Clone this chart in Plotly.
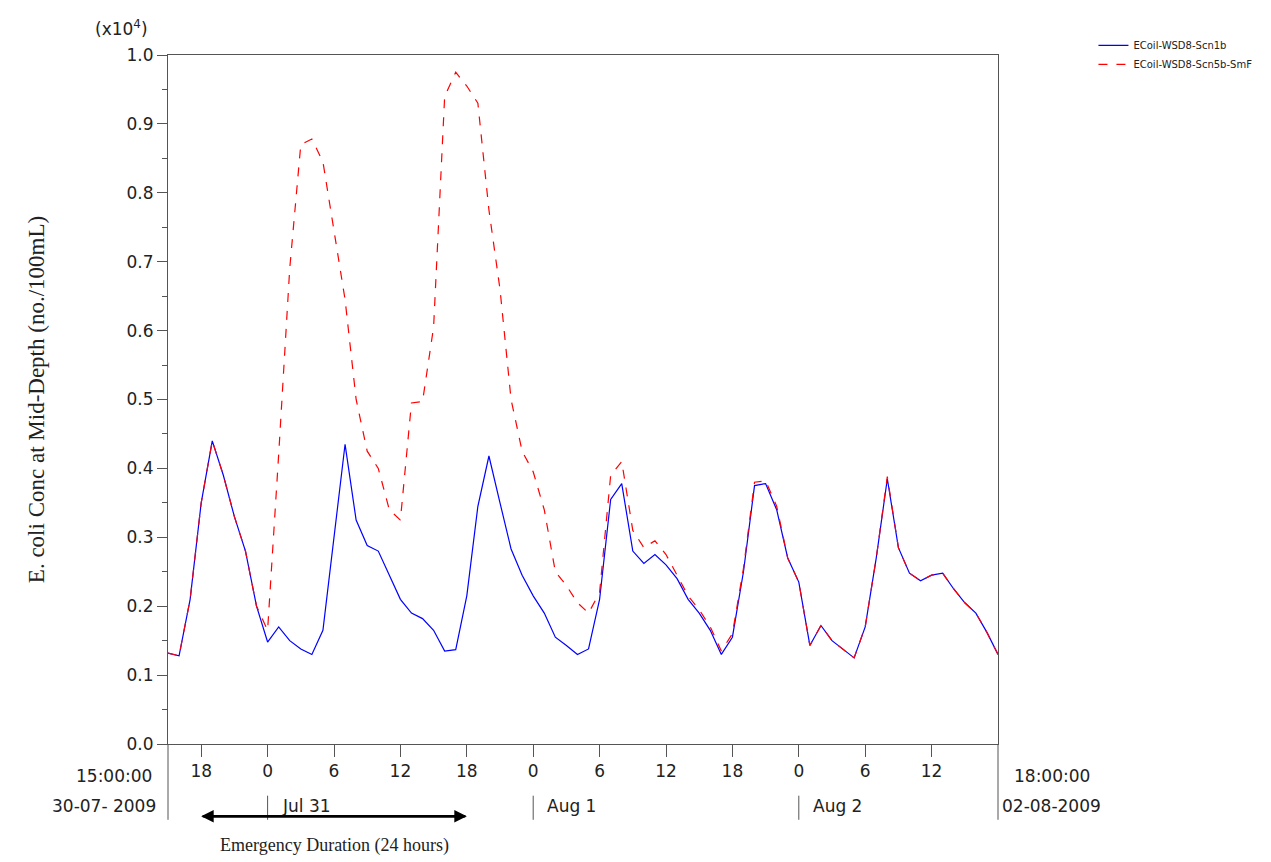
import plotly.graph_objects as go

hours = list(range(76))  # hours since 15:00 30-07-2009
scn1b = [0.132,0.128,0.21,0.35,0.44,0.39,0.33,0.28,0.20,0.148,0.17,0.15,0.138,0.13,0.165,0.30,
         0.435,0.325,0.288,0.28,0.245,0.21,0.19,0.182,0.165,0.135,0.137,0.215,0.345,0.418,0.35,0.283,
         0.245,0.215,0.19,0.155,0.143,0.13,0.138,0.21,0.355,0.378,0.28,0.262,0.275,0.26,0.24,0.21,
         0.19,0.165,0.13,0.155,0.25,0.375,0.378,0.34,0.27,0.235,0.143,0.172,0.15,0.138,0.125,0.17,
         0.27,0.385,0.285,0.248,0.237,0.245,0.248,0.225,0.205,0.19,0.162,0.13]
scn5b = [0.132,0.128,0.21,0.35,0.44,0.39,0.33,0.28,0.20,0.165,0.42,0.69,0.87,0.878,0.845,0.745,
         0.645,0.50,0.425,0.40,0.34,0.325,0.495,0.497,0.605,0.94,0.975,0.955,0.93,0.775,0.66,0.50,
         0.425,0.395,0.34,0.25,0.23,0.205,0.19,0.22,0.39,0.41,0.31,0.285,0.295,0.275,0.245,0.215,
         0.195,0.17,0.135,0.16,0.255,0.38,0.382,0.345,0.27,0.235,0.143,0.172,0.15,0.138,0.125,0.17,
         0.27,0.388,0.285,0.248,0.237,0.245,0.248,0.225,0.205,0.19,0.162,0.13]
tick_hours = [3,9,15,21,27,33,39,45,51,57,63,69]
tick_text = ["18","0","6","12","18","0","6","12","18","0","6","12"]
day_hours = [9,33,57]
day_text = ["Jul 31","Aug 1","Aug 2"]
y_ticks = [round(i*0.1,1) for i in range(11)]
emerg_start, emerg_end = 3, 27

fig = go.Figure()
fig.add_trace(go.Scatter(x=hours, y=scn1b, mode="lines", name="ECoil-WSD8-Scn1b",
                         line=dict(color="blue", width=1.2)))
fig.add_trace(go.Scatter(x=hours, y=scn5b, mode="lines", name="ECoil-WSD8-Scn5b-SmF",
                         line=dict(color="red", width=1.2, dash="dash")))

fnt = dict(family="DejaVu Sans", size=17, color="#222")
fig.update_layout(
    width=1271, height=862, paper_bgcolor="white", plot_bgcolor="white",
    margin=dict(l=160, r=281, t=47, b=126),
    showlegend=True,
    legend=dict(x=1.115, y=1.035, xanchor="left", yanchor="top", font=dict(family="DejaVu Sans", size=10, color="#222"),
                bgcolor="rgba(0,0,0,0)", tracegroupgap=0, itemwidth=30),
    xaxis=dict(range=[0,75], tickvals=tick_hours, ticktext=tick_text, ticks="outside", ticklen=12,
               tickcolor="#555", showgrid=False, zeroline=False, showline=True, linecolor="#555",
               mirror=True, tickfont=fnt),
    yaxis=dict(range=[0,1.0], tickvals=y_ticks, tickformat=".1f", ticks="outside", ticklen=10,
               tickcolor="#555", showgrid=False, zeroline=False, showline=True, linecolor="#555",
               mirror=True, tickfont=fnt,
               minor=dict(dtick=0.05, ticks="outside", ticklen=5, tickcolor="#555"),
               title=dict(text="E. coli Conc at Mid-Depth (no./100mL)",
                          font=dict(family="Liberation Serif", size=23, color="#222"), standoff=75)),
)
ann = []
for h, t in zip(day_hours, day_text):
    fig.add_shape(type="line", xref="x", yref="paper", x0=h, x1=h, y0=-0.075, y1=-0.11,
                  line=dict(color="#555", width=1))
    ann.append(dict(x=h, y=-0.108, xref="x", yref="paper", text=t, showarrow=False,
                    xanchor="left", xshift=12, font=fnt))
ann += [
    dict(x=0, y=-0.064, xref="x", yref="paper", text="15:00:00", showarrow=False, xanchor="right", xshift=-14, font=fnt),
    dict(x=0, y=-0.108, xref="x", yref="paper", text="30-07- 2009", showarrow=False, xanchor="right", xshift=-10, font=fnt),
    dict(x=75, y=-0.064, xref="x", yref="paper", text="18:00:00", showarrow=False, xanchor="left", xshift=14, font=fnt),
    dict(x=75, y=-0.108, xref="x", yref="paper", text="02-08-2009", showarrow=False, xanchor="left", xshift=2, font=fnt),
    dict(x=0, y=1.0, xref="paper", yref="paper", text="(x10<sup>4</sup>)", showarrow=False, xanchor="right",
         yanchor="bottom", xshift=-18, yshift=14, font=fnt),
    dict(x=emerg_start, y=-0.105, ax=emerg_end, ay=-0.105, xref="x", yref="paper", axref="x", ayref="pixel",
         text="", showarrow=True, arrowhead=2, arrowsize=1, arrowwidth=2.5, arrowcolor="black"),
    dict(x=emerg_end, y=-0.105, ax=emerg_start, ay=-0.105, xref="x", yref="paper", axref="x", ayref="pixel",
         text="", showarrow=True, arrowhead=2, arrowsize=1, arrowwidth=2.5, arrowcolor="black"),
    dict(x=(emerg_start+emerg_end)/2, y=-0.165, xref="x", yref="paper", text="Emergency Duration (24 hours)",
         showarrow=False, font=dict(family="Liberation Serif", size=18, color="#222")),
]
fig.add_shape(type="line", xref="paper", yref="paper", x0=0, x1=0, y0=0, y1=-0.11, line=dict(color="#555", width=1))
fig.add_shape(type="line", xref="paper", yref="paper", x0=1, x1=1, y0=0, y1=-0.11, line=dict(color="#555", width=1))
fig.update_layout(annotations=ann)
fig.write_html("out.html")
